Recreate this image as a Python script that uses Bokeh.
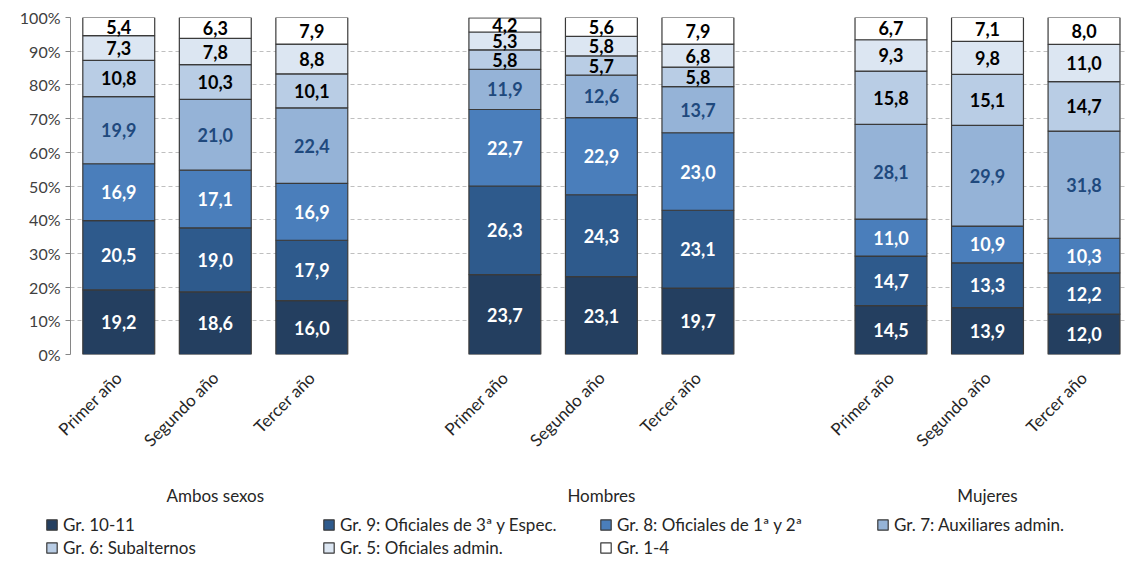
import math
from bokeh.plotting import figure
from bokeh.layouts import column
from bokeh.models import (ColumnDataSource, Legend, LegendItem, FixedTicker,
                          PrintfTickFormatter, Range1d, LinearAxis)
from bokeh.core.properties import value
from bokeh.embed import file_html
from bokeh.resources import INLINE

groups = ["Ambos sexos", "Hombres", "Mujeres"]
years = ["Primer año", "Segundo año", "Tercer año"]
series = ["Gr. 10-11", "Gr. 9: Oficiales de 3ª y Espec.", "Gr. 8: Oficiales de 1ª y 2ª",
          "Gr. 7: Auxiliares admin.", "Gr. 6: Subalternos", "Gr. 5: Oficiales admin.", "Gr. 1-4"]

# order: Ambos (1º,2º,3º), Hombres (1º,2º,3º), Mujeres (1º,2º,3º)
gr_10_11 = [19.2, 18.6, 16.0, 23.7, 23.1, 19.7, 14.5, 13.9, 12.0]
gr_9     = [20.5, 19.0, 17.9, 26.3, 24.3, 23.1, 14.7, 13.3, 12.2]
gr_8     = [16.9, 17.1, 16.9, 22.7, 22.9, 23.0, 11.0, 10.9, 10.3]
gr_7     = [19.9, 21.0, 22.4, 11.9, 12.6, 13.7, 28.1, 29.9, 31.8]
gr_6     = [10.8, 10.3, 10.1, 5.8, 5.7, 5.8, 15.8, 15.1, 14.7]
gr_5     = [7.3, 7.8, 8.8, 5.3, 5.8, 6.8, 9.3, 9.8, 11.0]
gr_1_4   = [5.4, 6.3, 7.9, 4.2, 5.6, 7.9, 6.7, 7.1, 8.0]

data = [gr_10_11, gr_9, gr_8, gr_7, gr_6, gr_5, gr_1_4]
colors = ["#243F60", "#2E5A8C", "#4A7EBB", "#95B3D7", "#B9CDE5", "#DCE6F2", "#FFFFFF"]
label_colors = ["white", "white", "white", "#1F497D", "black", "black", "black"]

FONT = "Lato"

xs = [g * 4 + y for g in range(3) for y in range(3)]

p = figure(width=1126, height=510, output_backend="svg", toolbar_location=None,
           x_range=Range1d(-0.5, 10.44), y_range=Range1d(0, 100), frame_align=False,
           min_border_top=17, min_border_bottom=156, min_border_left=70, min_border_right=0)
p.outline_line_color = None
p.background_fill_color = "white"

p.xgrid.grid_line_color = None
p.ygrid.grid_line_color = "#BFBFBF"
p.ygrid.grid_line_dash = "4 3"
p.ygrid.ticker = FixedTicker(ticks=list(range(0, 101, 10)))

p.yaxis.ticker = FixedTicker(ticks=list(range(0, 101, 10)))
p.yaxis.formatter = PrintfTickFormatter(format="%d%%")
p.yaxis.axis_line_color = "#868686"
p.yaxis.major_tick_line_color = "#868686"
p.yaxis.major_tick_out = 5
p.yaxis.major_tick_in = 0
p.yaxis.minor_tick_line_color = None
p.yaxis.major_label_text_font = FONT
p.yaxis.major_label_text_font_size = "16px"
p.yaxis.major_label_text_color = "#404040"

p.xaxis.ticker = FixedTicker(ticks=xs)
p.xaxis.major_label_overrides = {x: years[i % 3] for i, x in enumerate(xs)}
p.xaxis.major_label_orientation = math.pi / 4
p.xaxis.axis_line_color = None
p.xaxis.major_tick_line_color = None
p.xaxis.minor_tick_line_color = None
p.xaxis.major_label_text_font = FONT
p.xaxis.major_label_text_font_size = "17px"
p.xaxis.major_label_text_color = "#262626"
p.xaxis.major_label_standoff = 14

gaxis = LinearAxis(ticker=FixedTicker(ticks=[1, 5, 9]),
                   major_label_overrides={g * 4 + 1: name for g, name in enumerate(groups)})
gaxis.axis_line_color = None
gaxis.major_tick_line_color = None
gaxis.minor_tick_line_color = None
gaxis.major_label_text_font = FONT
gaxis.major_label_text_font_size = "17px"
gaxis.major_label_text_color = "#262626"
gaxis.major_label_standoff = 18
p.add_layout(gaxis, "below")

# legend figure
lf = figure(width=1126, height=51, output_backend="svg", toolbar_location=None,
            x_range=Range1d(0, 1), y_range=Range1d(0, 1), frame_align=False,
            x_axis_location=None, y_axis_location=None,
            min_border=0, min_border_left=0, min_border_right=0,
            min_border_top=0, min_border_bottom=0)
lf.outline_line_color = None
lf.grid.visible = False

bottom = [0.0] * 9
items = []
for k, (vals, col, lc) in enumerate(zip(data, colors, label_colors)):
    top = [b + v for b, v in zip(bottom, vals)]
    mid = [(b + t) / 2 for b, t in zip(bottom, top)]
    src = ColumnDataSource(dict(x=xs, bottom=bottom, top=top, mid=mid,
                                lab=[f"{v:.1f}".replace(".", ",") for v in vals]))
    p.vbar(x="x", width=0.745, bottom="bottom", top="top", source=src,
           fill_color=col, line_color="#3A3A3A", line_width=1.2)
    p.text(x="x", y="mid", text="lab", source=src, text_align="center",
           text_baseline="middle", text_color=lc, text_font=value(FONT),
           text_font_size="18px", text_font_style="bold")
    r = lf.rect(x=[-5], y=[-5], width=0.1, height=0.1, fill_color=col,
                line_color="#3A3A3A", line_width=1.2)
    items.append(LegendItem(label=series[k], renderers=[r]))
    bottom = top

common = dict(orientation="horizontal", label_text_font=FONT, label_text_font_size="17px",
              label_text_color="#262626", glyph_width=13, glyph_height=13,
              label_width=255, label_standoff=5, spacing=4, padding=0, margin=0,
              border_line_color=None, background_fill_alpha=0)
legend1 = Legend(items=items[:4], location=(45, 26), **common)
legend2 = Legend(items=items[4:], location=(45, 3), **common)
lf.add_layout(legend1, "center")
lf.add_layout(legend2, "center")

layout = column(p, lf, spacing=0)
open("out.html", "w").write(file_html(layout, INLINE))
